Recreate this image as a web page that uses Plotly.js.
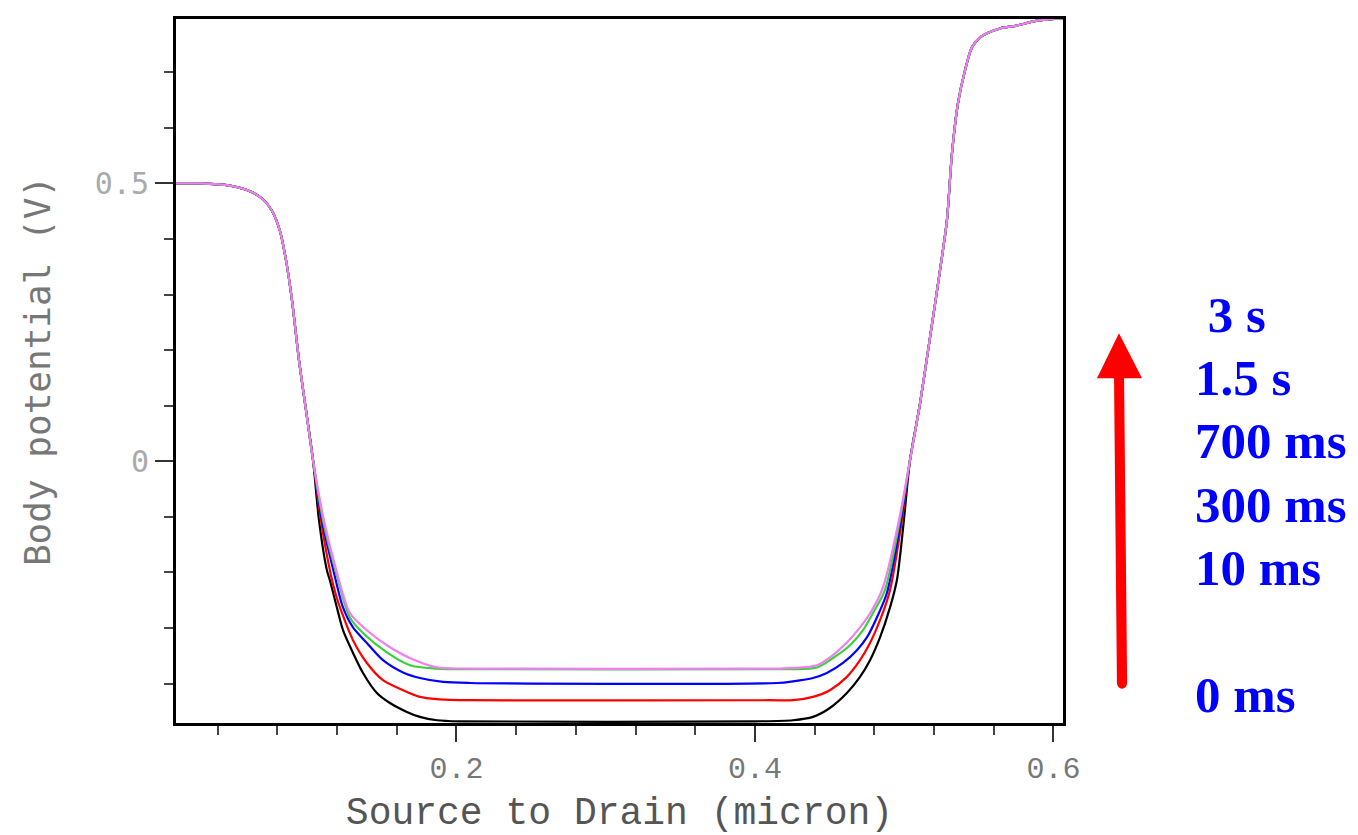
<!DOCTYPE html>
<html>
<head>
<meta charset="utf-8">
<script src="https://cdn.plot.ly/plotly-3.0.1.min.js"></script>
<style>html,body{margin:0;padding:0;background:#fff;}#chart{width:1358px;height:835px;}</style>
</head>
<body>
<div id="chart"></div>
<script>
// Shared left descent (all curves coincide here)
const leftX = [0.0121,0.0281,0.0482,0.0616,0.0697,0.0764,0.0817,0.0858,0.0898,0.0945,0.0992,0.1039];
const leftY = [0.500,0.500,0.496,0.486,0.473,0.451,0.415,0.362,0.290,0.182,0.092,0.002];
// Shared right rise
const rightX = [0.5039,0.5106,0.5173,0.5240,0.5286,0.5320,0.5360,0.5407,0.5454,0.5508,0.5642,0.5755,0.5889,0.6064];
const rightY = [0.002,0.104,0.223,0.344,0.433,0.554,0.644,0.703,0.745,0.763,0.779,0.784,0.793,0.797];

// Channel (middle) part of each curve
const t0X = [0.1079,0.1132,0.1152,0.1199,0.1240,0.1307,0.1374,0.1467,0.1554,0.1668,0.1755,0.1869,0.2023,0.4000,0.4255,0.4389,0.4502,0.4616,0.4704,0.4771,0.4838,0.4905,0.4951,0.4998];
const t0Y = [-0.106,-0.196,-0.214,-0.263,-0.304,-0.345,-0.381,-0.417,-0.435,-0.451,-0.460,-0.466,-0.468,-0.468,-0.466,-0.460,-0.444,-0.417,-0.388,-0.358,-0.317,-0.263,-0.214,-0.106];

const t10X = [0.1092,0.1159,0.1193,0.1233,0.1307,0.1400,0.1508,0.1642,0.1755,0.1869,0.2090,0.4100,0.4255,0.4389,0.4502,0.4616,0.4704,0.4771,0.4838,0.4905,0.4985];
const t10Y = [-0.106,-0.205,-0.241,-0.273,-0.322,-0.363,-0.394,-0.412,-0.424,-0.428,-0.430,-0.430,-0.430,-0.424,-0.412,-0.388,-0.358,-0.327,-0.286,-0.232,-0.106];

const t300X = [0.1099,0.1179,0.1240,0.1307,0.1400,0.1508,0.1642,0.1755,0.1910,0.2090,0.4150,0.4255,0.4389,0.4482,0.4590,0.4683,0.4750,0.4817,0.4884,0.4978];
const t300Y = [-0.106,-0.200,-0.263,-0.299,-0.327,-0.358,-0.380,-0.390,-0.397,-0.399,-0.399,-0.396,-0.390,-0.381,-0.363,-0.340,-0.317,-0.281,-0.237,-0.106];

const t700X = [0.1106,0.1193,0.1286,0.1374,0.1534,0.1688,0.1869,0.2003,0.4200,0.4255,0.4415,0.4523,0.4637,0.4724,0.4791,0.4871,0.4971];
const t700Y = [-0.106,-0.200,-0.281,-0.309,-0.344,-0.367,-0.373,-0.374,-0.374,-0.374,-0.371,-0.354,-0.331,-0.304,-0.273,-0.232,-0.106];

const t3sX = [0.1112,0.1199,0.1286,0.1400,0.1534,0.1688,0.1869,0.2090,0.4100,0.4168,0.4415,0.4502,0.4616,0.4704,0.4784,0.4858,0.4965];
const t3sY = [-0.106,-0.200,-0.273,-0.304,-0.331,-0.354,-0.371,-0.373,-0.373,-0.373,-0.367,-0.353,-0.326,-0.299,-0.268,-0.227,-0.106];

const seriesNames = ['0 ms','10 ms','300 ms','700 ms','3 s'];
const seriesColors = ['#000000','#ff0000','#0000ff','#3ccf3c','#f07ef0'];
const midX = [t0X,t10X,t300X,t700X,t3sX];
const midY = [t0Y,t10Y,t300Y,t700Y,t3sY];

const labels = [' 3 s','1.5 s','700 ms','300 ms','10 ms','0 ms'];
const labelY = [0.5791,0.4897,0.4003,0.3094,0.2200,0.0397];

const xTickVals = [0.2,0.4,0.6];
const xTickText = ['0.2','0.4','0.6'];
const yTickVals = [0,0.5];
const yTickText = ['0','0.5'];

const traces = seriesNames.map((n,i)=>({
  type:'scatter', mode:'lines', name:n,
  x: leftX.concat(midX[i], rightX),
  y: leftY.concat(midY[i], rightY),
  line:{color:seriesColors[i], width:2.2, shape:'spline', smoothing:0.8},
  hoverinfo:'skip'
}));

const annotations = labels.map((t,i)=>({
  xref:'paper', yref:'paper', x: 1.1460, y: labelY[i],
  xanchor:'left', yanchor:'middle', text:'<b>'+t+'</b>', showarrow:false,
  font:{family:'Liberation Serif, Times New Roman, serif', size:51, color:'#0000ff'}
}));

const shapes = [
  {type:'path', xref:'paper', yref:'paper',
   path:'M 1.0608 0.0568 L 1.0723 0.0568 L 1.0688 0.4960 L 1.0575 0.4960 Z',
   fillcolor:'#ff0000', line:{width:0}},
  {type:'circle', xref:'paper', yref:'paper', x0:1.0608, x1:1.0723, y0:0.0487, y1:0.0649,
   fillcolor:'#ff0000', line:{width:0}},
  {type:'path', xref:'paper', yref:'paper',
   path:'M 1.0631 0.5536 L 1.0383 0.4897 L 1.0891 0.4897 Z',
   fillcolor:'#ff0000', line:{width:0}}
];

const layout = {
  width:1358, height:835,
  margin:{l:176, r:295, t:18.5, b:112},
  paper_bgcolor:'#ffffff', plot_bgcolor:'#ffffff',
  showlegend:false,
  xaxis:{
    range:[0.0121,0.6064], showgrid:false, zeroline:false,
    showline:true, linecolor:'#000', linewidth:3, mirror:true,
    tickmode:'array', tickvals:xTickVals, ticktext:xTickText,
    ticks:'outside', ticklen:16, tickwidth:2, tickcolor:'#333',
    minor:{dtick:0.04, tick0:0, ticks:'outside', ticklen:9, tickwidth:2, tickcolor:'#444'},
    tickfont:{family:'Liberation Mono, Courier New, monospace', size:30, color:'#777'},
    title:{text:'Source to Drain (micron)', standoff:20,
      font:{family:'Liberation Mono, Courier New, monospace', size:38, color:'#555'}}
  },
  yaxis:{
    range:[-0.471,0.796], showgrid:false, zeroline:false,
    showline:true, linecolor:'#000', linewidth:3, mirror:true,
    tickmode:'array', tickvals:yTickVals, ticktext:yTickText,
    ticks:'outside', ticklen:18, tickwidth:2, tickcolor:'#333',
    minor:{dtick:0.1, tick0:0, ticks:'outside', ticklen:9, tickwidth:2, tickcolor:'#444'},
    tickfont:{family:'DejaVu Sans Mono, monospace', size:30, color:'#aaa'},
    title:{text:'Body potential (V)', standoff:34,
      font:{family:'DejaVu Sans Mono, monospace', size:36, color:'#777'}}
  },
  annotations: annotations,
  shapes: shapes
};

Plotly.newPlot('chart', traces, layout, {staticPlot:true, displayModeBar:false});
</script>
</body>
</html>
